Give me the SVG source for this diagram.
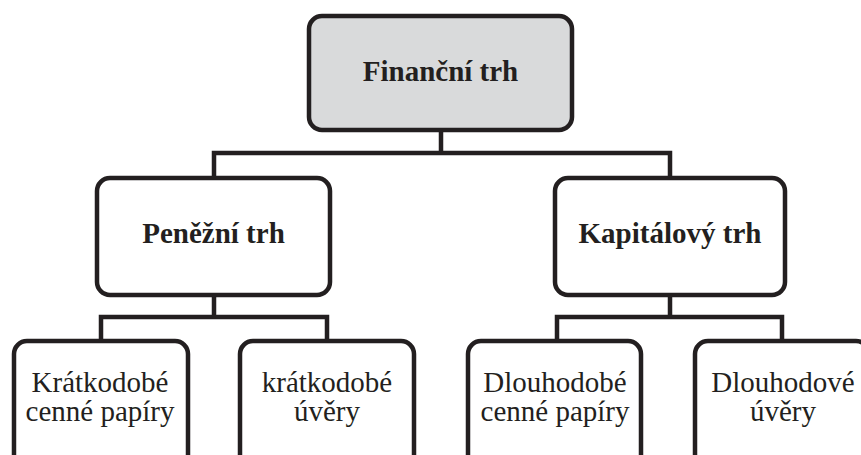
<svg xmlns="http://www.w3.org/2000/svg" width="861" height="455" viewBox="0 0 861 455">
<style>
.box{fill:#ffffff;stroke:#231f20;stroke-width:4.5}
.root{fill:#d9dadb}
.con{fill:none;stroke:#231f20;stroke-width:4.5;stroke-linejoin:miter}
.b{font-family:"Liberation Serif","Times New Roman",serif;font-weight:bold;font-size:29px;fill:#231f20;text-anchor:middle}
.r{font-family:"Liberation Serif","Times New Roman",serif;font-size:29px;fill:#231f20;text-anchor:middle}
</style>
<rect width="861" height="455" fill="#ffffff"/>
<g id="connectors">
<path class="con" d="M441,130 V153 M214,178 V153 H670 V178"/>
<path class="con" d="M214,295 V317 M101,341 V317 H327 V341"/>
<path class="con" d="M670,295 V317 M557,341 V317 H782 V341"/>
</g>
<g id="financni-trh">
<rect class="box root" x="309" y="16" width="263" height="114" rx="13"/>
<text class="b" x="440.5" y="81">Finanční trh</text>
</g>
<g id="penezni-trh">
<rect class="box" x="97" y="178" width="233" height="117" rx="13"/>
<text class="b" x="213.5" y="243">Peněžní trh</text>
</g>
<g id="kapitalovy-trh">
<rect class="box" x="555" y="178" width="230" height="117" rx="13"/>
<text class="b" x="670" y="243">Kapitálový trh</text>
</g>
<g id="kratkodobe-cenne-papiry">
<rect class="box" x="14" y="341" width="174" height="130" rx="13"/>
<text class="r" x="100" y="392">Krátkodobé</text>
<text class="r" x="100" y="421">cenné papíry</text>
</g>
<g id="kratkodobe-uvery">
<rect class="box" x="240" y="341" width="174" height="130" rx="13"/>
<text class="r" x="327" y="392">krátkodobé</text>
<text class="r" x="327" y="421">úvěry</text>
</g>
<g id="dlouhodobe-cenne-papiry">
<rect class="box" x="468" y="341" width="173" height="130" rx="13"/>
<text class="r" x="555" y="392">Dlouhodobé</text>
<text class="r" x="555" y="421">cenné papíry</text>
</g>
<g id="dlouhodove-uvery">
<rect class="box" x="695" y="341" width="174" height="130" rx="13"/>
<text class="r" x="783" y="392">Dlouhodové</text>
<text class="r" x="783" y="421">úvěry</text>
</g>
</svg>
